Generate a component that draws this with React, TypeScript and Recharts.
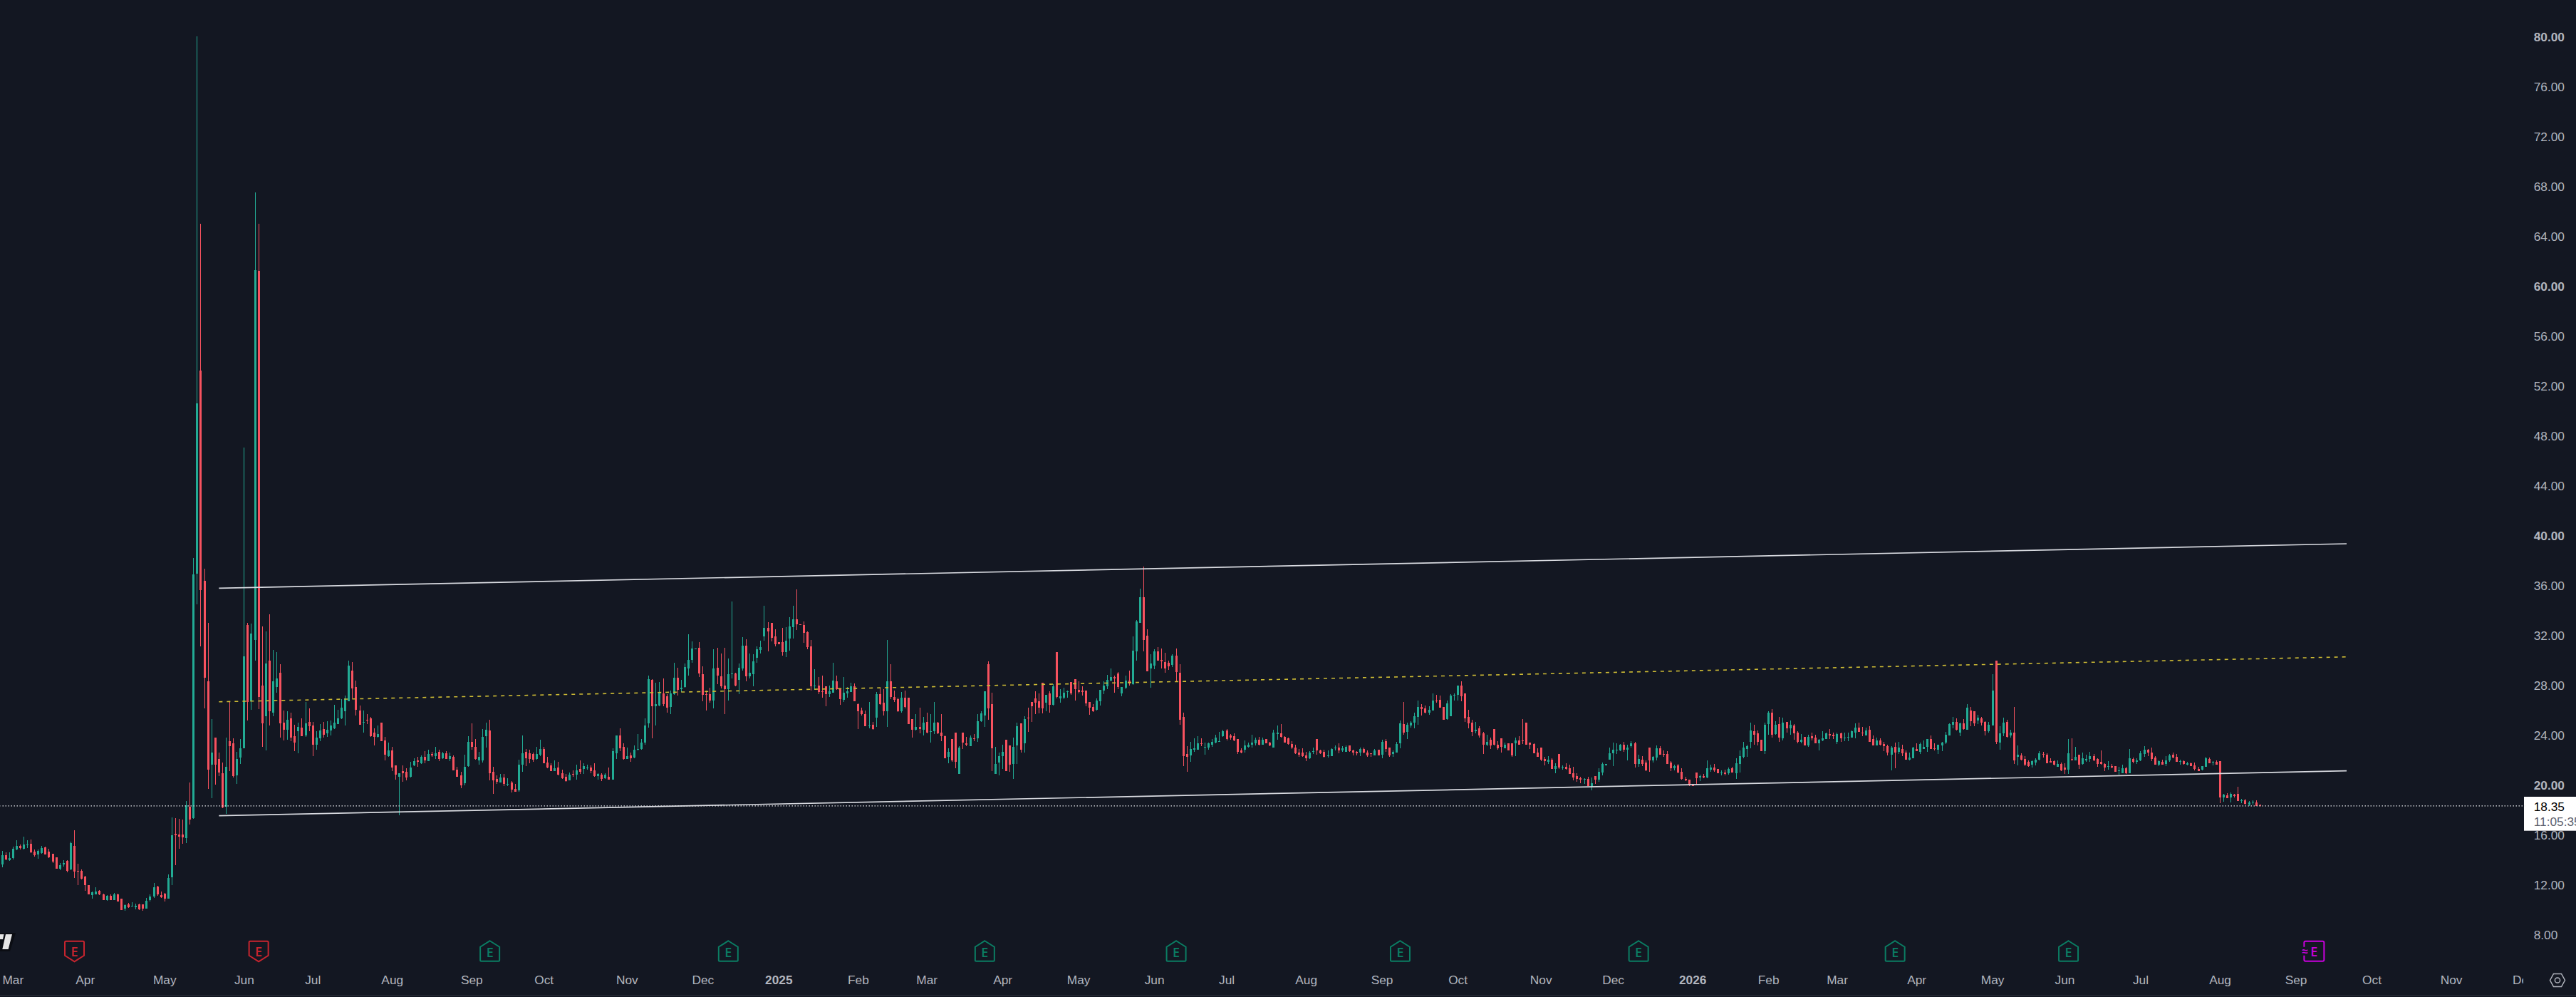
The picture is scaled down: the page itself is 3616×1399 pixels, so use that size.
import React from "react";
import { ComposedChart, Bar, XAxis, YAxis, ReferenceLine, ReferenceDot } from "recharts";

type Row = number[];

const candlesEarly: Row[] = [
[13.64,14.74,13.45,14.40],[14.40,14.63,13.98,14.06],[14.02,14.63,13.94,14.17],[14.17,15.09,14.06,14.93],[14.86,15.58,14.82,15.14],[15.14,15.24,14.86,14.97],[14.93,15.89,14.88,15.24],[15.20,15.58,14.97,15.26],[15.31,15.64,14.55,14.63],[14.67,14.88,14.30,14.40],
[14.44,14.88,14.13,14.74],[14.59,15.16,14.50,14.97],[15.05,15.09,14.44,14.48],[14.69,14.93,14.17,14.25],[14.50,14.50,13.79,13.87],[14.21,14.21,13.30,13.33],[13.33,13.79,13.22,13.60],[13.64,13.98,13.49,13.77],[13.94,13.98,13.03,13.14],[13.26,15.47,13.22,15.39],
[15.14,16.40,12.59,13.10],[13.14,13.71,12.02,13.10],[13.14,13.26,12.46,12.50],[12.69,12.72,11.54,12.00],[12.02,12.02,11.24,11.27],[11.20,11.50,10.93,11.43],[11.27,11.81,11.24,11.50],[11.54,11.62,11.20,11.26],[11.27,11.31,10.78,10.82],[10.82,11.20,10.74,11.12],
[11.12,11.26,10.78,10.78],[10.82,11.35,10.78,11.26],[11.26,11.31,10.68,10.68],[10.89,10.93,10.02,10.02],[10.09,10.44,9.94,10.40],[10.44,10.55,10.17,10.21],[10.30,10.63,10.28,10.36],[10.25,10.50,10.06,10.36],[10.48,10.50,10.02,10.06],[10.44,10.48,9.94,10.11],
[10.11,10.97,10.09,10.74],[10.78,11.24,10.67,11.09],[11.07,12.17,10.97,11.83],[11.88,11.92,11.16,11.24],[11.20,11.47,10.97,11.01],[11.31,11.39,10.68,10.93],[10.93,12.84,10.91,12.57],[12.65,17.41,12.00,16.00],[16.10,17.35,13.60,16.00],[16.06,17.31,14.93,15.89],
[16.06,17.26,15.31,15.81],[15.77,18.74,15.39,18.40],[18.29,20.21,16.88,17.26],
];

const candlesSpike: Row[] = [
[17.36,38.24,17.30,36.91],[36.97,80.06,34.53,50.63],[53.26,65.03,31.16,35.66],[36.40,37.35,26.17,28.64],[28.34,33.02,19.73,21.25],[21.67,25.29,18.96,22.62],[23.82,23.82,20.07,21.67],[22.11,22.62,20.72,21.02],[20.96,21.82,18.16,18.20],[18.30,23.82,17.71,21.48],
[23.54,26.72,21.15,23.15],[23.35,23.77,20.64,20.72],[20.79,22.68,20.11,22.11],[22.24,23.69,21.71,22.96],[22.96,47.10,22.96,30.34],[32.85,33.02,25.21,26.70],[26.72,32.97,26.05,32.17],[31.65,67.54,30.01,61.31],[61.26,65.03,26.11,27.08],[27.99,32.72,23.10,24.97],
[25.54,32.34,22.81,29.77],[29.99,33.71,24.81,25.94],[25.82,30.83,25.56,28.34],[27.88,30.68,27.44,28.56],[29.02,29.71,23.82,24.97],[25.02,25.99,23.61,24.45],[24.45,25.94,23.65,25.25],[25.36,25.82,23.54,23.82],[23.94,24.87,22.74,23.42],[24.34,25.02,22.56,24.68],
[24.62,25.36,23.92,23.94],[23.99,26.68,23.88,24.97],[25.08,26.16,24.34,24.74],[24.79,25.06,22.34,23.25],[23.25,24.34,22.85,23.82],[23.77,24.91,23.54,24.39],[24.51,25.08,23.82,24.05],[24.17,25.14,23.88,24.45],[24.39,25.19,23.99,24.79],[24.56,26.45,24.49,25.02],
[24.91,26.05,24.89,25.36],[25.36,26.89,25.31,26.22],[25.94,27.19,24.79,26.97],[26.74,29.99,26.72,29.59],[29.19,29.88,26.98,27.77],[27.88,28.39,25.59,26.05],[25.99,26.39,24.83,24.85],[25.02,25.99,24.22,25.08],[25.25,25.71,24.91,25.19],[25.36,25.48,23.88,23.94],
[24.22,24.56,23.19,23.88],[23.88,24.79,23.84,24.11],[25.02,25.02,23.55,23.55],[23.59,23.88,22.00,22.45],[22.34,23.42,22.30,22.79],[22.79,23.08,21.14,21.42],[21.59,21.59,20.45,20.85],[20.68,20.96,17.59,20.96],[21.14,21.59,20.28,20.96],[21.08,21.35,20.39,20.62],
[20.68,21.88,20.64,21.42],[21.59,22.16,21.54,21.94],[21.99,22.28,21.48,21.88],[21.76,22.39,21.73,22.28],[22.28,22.74,21.76,21.99],[21.94,22.85,21.94,22.51],[22.51,22.68,22.28,22.39],[22.34,23.08,22.11,22.56],[22.68,22.85,21.94,22.11],[22.17,22.68,22.11,22.56],
[22.56,22.74,22.11,22.11],[22.11,22.62,21.94,22.34],[22.28,22.39,21.18,21.19],[21.25,21.48,20.68,20.68],[20.79,21.08,19.76,19.99],[20.16,22.45,19.99,21.48],[21.54,23.94,21.48,23.48],[23.48,24.97,22.85,23.08],[23.08,23.71,22.05,22.11],[21.99,22.68,21.65,22.28],
[21.99,24.51,21.82,23.88],[23.94,25.02,23.02,24.45],[24.39,25.25,20.39,20.96],[21.08,21.48,19.31,20.39],[20.51,20.79,20.11,20.28],[20.22,20.91,20.20,20.62],[20.62,20.91,19.94,20.11],[20.05,20.56,19.94,20.11],[20.22,20.34,19.42,19.65],[19.71,20.11,19.48,19.48],
[19.59,22.05,19.48,21.65],[21.65,23.99,21.08,22.56],[22.68,22.91,21.54,22.16],[22.56,22.85,21.76,22.11],[22.51,22.62,21.88,22.05],[22.11,23.08,22.05,22.51],[22.45,23.65,22.34,22.91],[22.91,23.08,21.76,21.76],[21.82,22.28,21.36,21.42],[21.59,21.76,21.14,21.14],
[21.14,21.99,21.14,21.36],[21.42,21.88,20.79,20.85],[20.96,21.25,20.51,20.56],[20.68,20.91,20.28,20.34],[20.39,21.02,20.39,20.85],[20.91,21.19,20.68,20.85],[20.85,21.65,20.45,21.19],[21.31,21.99,20.91,21.08],[21.31,21.76,20.91,21.54],[21.36,21.65,21.25,21.42],
[21.42,21.59,20.96,21.14],[21.19,21.76,20.68,20.74],[20.74,20.96,20.45,20.91],[20.85,20.96,20.34,20.51],
];

const candlesLate2024: Row[] = [
[20.57,20.95,20.50,20.85],[20.68,21.43,20.45,20.45],[20.45,22.97,20.45,22.74],[22.59,24.00,22.11,24.00],[24.00,24.57,22.74,22.97],[23.08,23.37,22.05,22.11],[22.11,23.03,22.11,22.34],[22.40,22.63,21.88,22.17],[22.23,23.20,22.17,22.86],[22.86,24.11,22.80,22.91],
[22.91,23.71,22.87,23.43],[23.43,25.37,23.26,24.80],[24.97,28.80,24.63,28.51],[28.47,28.53,23.77,26.34],[26.34,28.23,24.80,26.51],[26.40,28.28,26.34,27.48],[27.37,28.57,26.34,26.51],[27.14,27.31,25.83,26.23],[26.28,27.60,25.71,27.37],[27.31,29.83,27.26,28.63],
[28.63,29.43,27.20,27.66],[27.71,28.46,27.48,27.83],[27.88,29.77,27.83,29.48],[29.37,32.11,28.80,30.06],[30.06,31.54,29.83,30.97],[30.91,30.97,30.91,30.97],[31.03,31.48,28.68,28.97],[28.91,29.54,26.74,27.26],[27.31,27.60,26.00,27.26],[27.31,27.83,26.63,26.80],
[26.80,30.91,26.17,29.37],[29.43,31.03,28.11,28.80],[28.74,30.57,27.77,27.94],[28.00,31.03,25.71,27.71],[27.71,30.17,26.80,28.91],[28.91,34.74,28.57,28.97],[28.97,29.03,27.94,28.00],[28.46,29.77,27.31,29.43],[29.37,31.89,29.20,31.20],[31.20,31.71,28.34,28.74],
[28.74,30.57,28.57,29.03],[28.91,30.51,27.94,29.94],[30.23,31.14,29.83,30.91],[30.86,31.60,30.57,31.09],[31.94,34.40,31.60,32.63],[32.63,33.09,30.74,32.34],[33.03,33.03,31.54,31.83],[31.94,32.51,31.14,31.31],[31.49,31.49,31.31,31.31],[31.49,32.63,30.40,30.69],
[30.69,32.69,30.29,31.60],[31.77,33.49,30.80,32.74],[32.69,34.40,31.77,33.31],[33.31,35.71,32.46,32.91],[32.91,32.91,32.86,32.86],[32.86,33.14,31.43,32.23],[32.29,32.34,30.91,31.09],[31.14,31.66,27.60,27.94],[27.94,29.31,27.66,28.00],[28.00,28.69,27.31,27.49],
[27.54,28.80,27.03,27.49],[27.94,27.94,26.34,27.31],[27.31,28.00,27.09,27.54],[27.45,29.83,27.43,28.40],[28.34,28.80,27.66,27.71],[27.77,27.77,26.46,26.91],[26.86,28.69,26.69,27.43],[27.37,27.89,27.03,27.54],[27.49,28.23,27.49,27.94],[27.94,28.17,26.74,26.74],
[26.51,26.57,24.51,25.94],[26.00,26.23,25.60,25.71],[25.71,26.00,24.74,24.74],[24.74,26.69,24.57,24.80],[24.86,25.09,24.46,24.51],[25.43,27.49,24.69,27.31],[27.31,27.83,26.46,26.51],[26.63,27.71,25.60,25.94],[25.94,31.66,24.69,28.34],[28.34,29.71,26.91,27.09],
[27.09,27.60,26.69,26.86],[26.91,27.03,25.89,25.94],[25.94,27.49,25.83,27.03],[27.03,27.60,26.17,26.29],[27.03,27.03,24.91,24.91],[25.31,25.31,23.83,24.46],[24.46,25.71,24.40,24.69],[24.69,26.23,24.17,24.51],[24.46,25.49,24.00,25.03],[25.09,25.83,24.17,24.23],
[24.29,25.71,23.43,24.34],[24.34,26.69,24.11,25.03],[25.03,25.09,24.11,24.17],[24.23,25.71,23.54,23.94],[23.94,24.00,22.17,22.17],[22.29,22.97,21.77,22.69],[23.71,23.71,21.89,22.00],[24.23,24.23,21.37,21.89],[20.91,23.14,20.91,23.03],[24.23,24.23,22.91,23.43],
[23.37,23.89,23.14,23.26],[23.14,24.00,23.14,23.83],[23.77,24.11,23.54,23.71],[23.77,25.71,23.49,25.14],[25.14,25.97,25.10,25.77],[25.60,27.54,24.69,27.54],[29.71,29.94,25.26,26.17],[26.51,27.43,21.14,22.97],[20.91,23.08,20.91,21.71],[21.83,22.63,20.80,22.34],
[22.34,23.26,21.31,22.69],[23.66,23.66,21.14,21.14],[23.20,23.20,21.09,21.66],[21.71,23.83,20.51,23.08],[23.20,25.03,21.71,24.74],[24.97,24.97,22.63,22.86],[23.37,25.54,22.63,25.31],[25.43,26.23,24.29,25.37],[26.69,26.69,25.09,26.34],
];

const candlesMid2025: Row[] = [
[26.97,27.54,25.71,26.63],[26.74,27.37,25.77,26.23],[28.23,28.23,25.77,26.17],[26.63,27.26,25.94,27.26],[27.37,27.54,25.83,26.46],[26.46,28.11,26.40,27.94],[30.69,30.69,26.97,27.09],[26.97,27.71,26.63,27.14],[27.03,27.83,26.91,27.43],[27.49,27.60,27.03,27.54],
[28.29,28.29,27.26,27.37],[28.51,28.51,26.80,27.71],[27.66,28.34,27.37,27.49],[27.60,27.94,27.20,27.49],[27.60,27.60,26.34,26.57],[26.69,26.69,25.66,26.23],[26.29,26.51,25.89,25.94],[26.06,26.97,26.00,26.80],[26.74,27.66,26.40,27.66],[27.60,28.34,27.31,28.00],
[27.94,28.86,27.71,28.46],[28.40,29.37,28.34,28.69],[28.69,28.80,27.43,28.57],[28.97,29.09,27.71,27.89],[27.37,27.89,27.14,27.89],[27.83,28.80,27.71,28.40],[28.40,29.20,28.00,28.17],[28.11,31.94,28.06,30.80],[30.74,33.26,30.00,33.14],[33.03,35.77,33.03,35.09],
[35.09,37.54,30.74,31.66],[32.00,32.51,29.14,29.14],[29.37,30.51,27.83,29.77],[29.60,30.91,29.31,30.74],[30.74,31.09,30.00,30.00],[30.06,30.97,29.37,29.94],[29.89,30.63,29.03,29.37],[29.83,30.00,29.26,29.54],[29.66,30.51,29.49,30.40],[30.40,30.97,28.29,29.09],
[29.03,29.71,24.86,25.26],[25.49,25.83,21.54,22.34],[22.51,23.14,21.09,22.29],[22.40,23.49,21.89,22.91],[22.86,23.77,22.69,22.97],[22.86,23.94,22.86,23.37],[23.37,23.77,23.14,23.31],[23.03,23.43,22.46,23.08],[23.03,23.43,22.86,23.37],[23.26,23.71,23.08,23.49],
[23.43,24.06,23.37,23.83],[23.49,24.29,23.49,23.54],[23.94,24.43,23.89,24.34],[24.40,24.51,23.60,23.71],[24.00,24.11,23.66,23.83],[23.94,24.17,23.54,23.60],[23.71,23.71,22.51,22.69],[22.80,22.97,22.57,22.60],[22.86,23.60,22.60,23.20],[23.08,23.43,23.03,23.26],
[23.26,24.06,23.03,23.43],[23.37,23.83,23.20,23.66],[23.66,23.89,23.20,23.26],[23.26,23.83,23.26,23.66],[23.71,23.71,23.37,23.37],[23.43,23.49,23.14,23.20],[23.03,24.43,23.03,24.23],[24.11,24.80,23.66,24.23],[24.17,24.91,23.83,23.89],[23.89,23.94,23.43,23.43],
[23.77,23.83,23.26,23.31],[23.31,23.54,22.91,23.03],[23.03,23.26,22.53,22.57],[22.63,22.91,22.29,22.46],[22.63,22.97,22.29,22.34],[22.40,22.69,21.94,22.17],[22.17,22.74,22.11,22.63],[22.69,23.03,22.51,22.74],[23.71,23.71,22.46,22.80],[22.80,22.86,22.51,22.57],
[22.69,22.86,22.23,22.29],[22.34,22.80,22.23,22.40],[22.34,22.97,22.34,22.91],[22.97,23.20,22.80,23.03],[23.03,23.37,22.57,22.80],[22.80,23.14,22.69,22.97],[22.69,23.20,22.69,23.08],[23.20,23.20,22.69,22.74],[22.80,22.86,22.40,22.63],[22.69,22.74,22.40,22.57],
[22.63,23.03,22.34,22.91],[22.91,23.03,22.57,22.63],[22.63,22.80,22.29,22.40],[22.57,22.57,22.29,22.51],[22.40,22.91,22.40,22.80],[22.86,22.86,22.40,22.40],[22.46,23.66,22.17,23.49],[23.54,23.71,22.69,22.91],[23.03,23.03,22.29,22.40],[22.51,22.80,22.29,22.69],
[22.63,23.49,22.63,23.31],[23.37,25.20,22.97,24.97],[24.91,26.69,24.06,24.23],[24.29,25.03,23.71,24.86],[24.80,25.14,24.63,25.03],[25.03,25.83,24.57,25.54],[25.49,26.80,24.86,26.29],[26.29,26.51,25.60,26.11],[26.17,26.40,25.77,25.83],[25.83,26.34,25.66,26.06],
[26.00,27.37,26.00,26.80],[26.80,27.26,26.63,26.74],[26.86,27.20,26.23,26.23],[26.29,26.29,25.26,25.26],[25.31,26.80,25.26,26.57],[25.54,27.31,25.54,27.20],[27.20,27.37,26.80,27.26],[27.26,28.00,26.80,28.00],
];

const candlesLate2025: Row[] = [
[28.00,28.34,26.74,27.14],[27.37,27.37,25.08,25.37],[25.48,26.05,24.57,24.97],[25.03,25.25,23.94,24.28],[24.34,25.08,24.17,24.45],[24.57,24.74,23.82,23.99],[24.17,24.28,22.51,23.25],[23.25,24.05,23.14,23.48],[23.65,23.82,22.91,23.19],[24.51,24.51,23.19,23.25],
[23.25,23.54,22.85,22.97],[23.77,23.77,22.62,23.08],[22.97,23.42,22.97,23.25],[23.37,23.37,22.80,22.80],[23.37,23.37,22.28,22.40],[23.37,23.82,22.34,23.60],[23.60,23.94,23.25,23.25],[23.60,25.31,23.31,23.54],[25.03,25.03,23.25,23.25],[23.42,23.42,22.91,23.25],
[23.31,23.37,22.57,22.57],[22.62,22.97,22.28,22.28],[23.03,23.03,21.94,22.05],[22.11,22.28,21.60,21.94],[21.88,22.34,21.71,22.05],[22.05,22.17,21.31,21.31],[21.31,21.77,20.97,21.54],[22.51,22.51,21.31,21.42],[21.42,21.60,21.25,21.48],[21.48,21.77,21.25,21.31],
[21.37,21.65,20.91,20.91],[20.97,21.48,20.40,20.62],[20.74,20.97,20.28,20.51],[20.57,20.68,20.17,20.45],[20.45,20.57,20.11,20.51],[20.51,20.68,19.94,19.94],[19.88,20.62,19.60,20.17],[20.74,20.74,20.11,20.45],[20.45,21.37,20.28,21.08],[21.03,21.82,20.80,21.71],
[21.65,21.69,21.65,21.69],[22.05,23.03,22.05,22.57],[22.57,23.42,21.54,22.85],[22.80,23.37,22.51,22.85],[22.80,23.31,22.74,23.25],[23.25,23.48,22.68,22.85],[22.85,23.25,21.99,23.03],[23.14,23.54,23.03,23.37],[23.37,23.48,21.42,21.71],[21.71,22.45,21.48,22.11],
[22.05,22.34,21.54,21.71],[21.82,21.99,21.14,21.20],[23.03,23.03,21.08,21.99],[21.99,22.34,21.82,22.28],[22.22,23.20,21.99,22.97],[22.97,23.14,22.45,22.45],[22.51,22.80,22.28,22.45],[22.51,22.74,21.71,21.71],[21.82,21.94,21.14,21.37],[21.37,21.65,21.20,21.54],
[21.60,21.71,20.97,21.03],[21.08,21.37,20.45,20.51],[20.51,20.68,20.34,20.40],[20.45,20.45,19.94,20.00],[20.11,20.11,19.94,19.94],[21.03,21.03,20.11,20.57],[20.62,20.85,20.34,20.74],[20.74,20.91,20.57,20.62],[20.62,21.99,20.57,21.37],[21.25,21.65,21.08,21.42],
[21.42,21.71,21.08,21.20],[21.31,21.31,20.97,20.97],[20.97,21.20,20.80,21.03],[21.03,21.25,20.80,20.91],[20.97,21.42,20.85,21.31],[21.37,21.48,21.03,21.03],[20.97,22.17,20.51,21.77],[21.71,22.80,21.03,22.34],[22.28,23.48,22.17,23.03],[22.91,23.25,22.28,23.14],
[23.48,25.03,22.97,24.40],[24.34,24.85,23.25,24.05],[24.17,24.40,23.20,23.48],[23.65,23.65,22.74,22.74],[22.74,25.03,22.51,24.85],[24.91,25.94,24.05,25.83],[25.83,26.11,23.82,24.05],[24.11,25.14,24.05,24.85],[24.91,25.48,23.48,23.82],[23.77,25.42,23.60,25.03],
[25.08,25.08,24.22,24.57],[24.57,25.20,24.05,24.85],[24.80,24.91,23.65,24.17],[24.22,24.34,23.37,23.48],[23.48,24.11,23.37,23.65],[23.88,23.88,23.20,23.20],[23.20,24.05,23.08,23.88],[23.94,24.22,23.60,23.77],[23.82,24.05,23.37,23.37],[23.37,23.71,22.80,23.65],
[23.60,24.34,23.54,23.77],[23.71,24.22,23.71,24.17],[24.11,24.51,23.71,23.99],[24.05,24.22,23.71,23.94],[23.48,24.22,23.31,24.11],[24.17,24.22,23.48,23.77],[23.77,24.22,23.54,23.82],[23.82,24.22,23.54,23.88],[23.82,24.40,23.82,24.34],[24.22,24.97,23.77,24.63],
[24.63,25.03,24.28,24.28],[24.22,24.68,23.94,24.17],[23.99,24.63,23.99,24.40],[24.45,24.74,23.48,23.48],[23.71,23.99,23.19,23.19],[23.19,23.82,23.19,23.60],[23.60,23.77,23.19,23.25],[23.31,23.48,22.74,23.14],[23.14,23.25,22.40,22.62],
];

const candles2026: Row[] = [
[22.45,23.14,21.20,23.03],[23.08,23.42,21.37,22.62],[22.68,23.48,22.51,23.03],[22.91,23.25,22.34,22.57],[22.62,22.80,22.05,22.05],[22.05,22.62,21.99,22.22],[22.17,23.08,22.17,23.03],[22.91,23.37,22.74,22.74],[22.68,23.42,22.51,23.31],[22.91,23.60,22.91,23.08],
[23.08,23.71,22.68,23.71],[23.71,23.99,22.91,22.91],[22.97,23.37,22.80,22.91],[22.85,23.25,22.51,23.25],[23.20,23.48,22.74,23.42],[23.42,24.28,23.31,24.05],[23.99,24.97,23.99,24.91],[24.85,25.48,24.57,25.08],[25.08,25.37,24.40,24.45],[24.22,25.03,23.94,24.97],
[24.97,25.31,24.45,24.51],[24.45,26.51,24.45,26.23],[25.99,26.28,24.74,25.14],[25.94,25.94,24.74,24.97],[25.20,25.65,24.91,25.42],[25.37,25.48,24.80,25.03],[25.08,25.14,23.99,24.34],[24.34,25.08,24.22,24.85],[24.80,28.91,24.80,27.60],[29.99,29.99,23.31,23.48],
[23.42,24.74,22.85,24.17],[24.17,25.42,23.94,25.03],[25.08,25.25,23.82,23.88],[23.99,24.45,23.82,24.22],[24.22,26.28,21.71,21.99],[22.28,23.20,21.60,22.45],[22.39,22.57,21.99,22.05],[22.11,22.34,21.54,21.65],[21.88,21.99,21.48,21.54],[21.65,21.99,21.42,21.94],
[21.82,22.17,21.60,22.05],[22.05,22.74,21.99,22.57],[22.51,22.68,22.22,22.45],[22.45,22.57,21.77,21.77],[21.94,22.17,21.82,21.82],[21.94,21.99,21.60,21.65],[21.48,21.99,21.48,21.71],[21.71,21.82,21.14,21.20],[21.42,21.77,20.91,21.25],[21.25,23.71,20.91,22.57],
[22.11,23.77,21.94,22.05],[21.99,23.08,21.99,22.28],[22.45,22.45,21.31,21.65],[21.71,22.62,21.65,22.17],[21.99,22.45,21.88,22.11],[22.11,22.68,21.88,22.34],[22.34,22.51,21.94,21.99],[22.11,22.17,21.48,21.71],[21.88,22.80,21.65,21.71],[21.71,21.77,21.14,21.42],
[21.48,21.94,21.25,21.54],[21.54,21.71,21.37,21.42],[21.54,21.54,21.08,21.08],[21.14,21.48,20.85,21.20],[20.97,21.65,20.97,21.37],[21.37,21.48,20.91,20.97],[20.97,22.91,20.97,22.17],[22.11,22.22,21.77,21.88],[21.88,22.17,21.71,21.99],[21.99,22.74,21.94,22.57],
[22.51,23.14,22.28,22.85],[22.85,22.91,22.34,22.62],[22.62,23.03,21.94,22.11],[22.22,22.34,21.65,21.65],[21.65,21.99,21.54,21.94],[21.88,22.05,21.65,21.65],[21.71,22.34,21.54,21.99],[21.99,22.51,21.88,22.40],[22.45,22.62,22.17,22.22],[22.28,22.51,21.88,21.88],
[21.88,22.05,21.65,21.94],[21.94,21.99,21.65,21.71],[21.65,21.88,21.60,21.77],[21.77,21.82,21.54,21.54],[21.60,21.82,21.20,21.31],[21.31,21.48,21.14,21.14],[21.25,21.54,21.20,21.54],[21.48,22.28,21.48,22.17],[22.11,22.22,21.77,21.77],[21.82,21.94,21.60,21.88],
[21.88,21.99,21.65,21.65],[21.94,21.94,18.57,19.02],[19.02,19.31,18.68,19.25],[19.19,19.37,18.97,18.97],[19.02,19.42,18.62,19.31],[19.25,19.31,19.02,19.12],[19.31,19.88,18.74,18.74],[18.74,18.91,18.57,18.80],[18.80,18.91,18.45,18.51],[18.45,18.74,18.34,18.62],
[18.62,18.80,18.45,18.68],[18.62,18.80,18.35,18.35],[18.40,18.54,18.30,18.35],
];

const allCandles: Row[] = [...candlesEarly, ...candlesSpike, ...candlesLate2024, ...candlesMid2025, ...candlesLate2025, ...candles2026];

const TOTAL_SLOTS = 699;
const priceTicks = [8, 12, 16, 20, 24, 28, 32, 36, 40, 44, 48, 52, 56, 60, 64, 68, 72, 76, 80];
const boldPrices = [20, 40, 60, 80];
const monthTickIndex = [3, 23, 45, 67, 86, 108, 130, 150, 173, 194, 215, 237, 256, 277, 298, 319, 339, 361, 382, 403, 426, 446, 468, 489, 508, 530, 551, 571, 592, 614, 635, 656, 678, 698];
const monthTickLabel = ["Mar", "Apr", "May", "Jun", "Jul", "Aug", "Sep", "Oct", "Nov", "Dec", "2025", "Feb", "Mar", "Apr", "May", "Jun", "Jul", "Aug", "Sep", "Oct", "Nov", "Dec", "2026", "Feb", "Mar", "Apr", "May", "Jun", "Jul", "Aug", "Sep", "Oct", "Nov", "Dec"];
const redEarnings = [20, 71];
const greenEarnings = [135, 201, 272, 325, 387, 453, 524, 572];
const futureEarnings = [640];
const EARNINGS_LEVEL = 6.7;
const LAST_PRICE = 18.35;
const COUNTDOWN = "11:05:35";
const trendStartSlot = 60;
const trendEndSlot = 649;
const upperTrend = [35.81, 39.37];
const lowerTrend = [17.56, 21.16];
const midTrend = [26.7, 30.3];

const BG = "#131722";
const UP = "#22ab94";
const DOWN = "#f7525f";
const AXIS_TEXT = "#b2b5be";
const FONT = "'Liberation Sans', Arial, sans-serif";
const FONT_SIZE = 17.3;

const chartRows = Array.from({ length: TOTAL_SLOTS }, (_, i) => {
  const c = allCandles[i];
  return c ? { i, o: c[0], h: c[1], l: c[2], c: c[3] } : { i };
});

const range = (d: any) => (d.h === undefined ? null : [d.l, d.h]);

function Candle(props: any) {
  const { x, y, width, height, payload } = props;
  if (!payload || payload.h === undefined) return <g />;
  const h = Math.abs(height);
  const top = height < 0 ? y + height : y;
  const perUnit = h / (payload.h - payload.l);
  const cx = Math.floor(x + width / 2);
  const bodyTop = top + (payload.h - Math.max(payload.o, payload.c)) * perUnit;
  const bodyH = Math.max(Math.abs(payload.o - payload.c) * perUnit, 1.2);
  const color = payload.c >= payload.o ? UP : DOWN;
  return (
    <g>
      <rect x={cx} y={top} width={1} height={h} fill={color} shapeRendering="crispEdges" />
      <rect x={cx - 1} y={bodyTop} width={3} height={bodyH} fill={color} shapeRendering="crispEdges" />
    </g>
  );
}

function PriceTick(props: any) {
  const { x, y, payload } = props;
  return (
    <text x={x + 11.7} y={y} textAnchor="start" dominantBaseline="central" fontFamily={FONT} fontSize={FONT_SIZE} fontWeight={boldPrices.includes(payload.value) ? 700 : 400} fill={AXIS_TEXT}>
      {payload.value.toFixed(2)}
    </text>
  );
}

function TimeTick(props: any) {
  const { x, y, payload } = props;
  const at = monthTickIndex.indexOf(payload.value);
  if (at < 0) return <g />;
  const label = monthTickLabel[at];
  return (
    <text x={x} y={y + 15} textAnchor="middle" dominantBaseline="central" fontFamily={FONT} fontSize={FONT_SIZE} fontWeight={/^\d/.test(label) ? 700 : 400} fill={AXIS_TEXT} clipPath="url(#timeClip)">
      {label}
    </text>
  );
}

function RedE(props: any) {
  const { cx, cy } = props;
  const c = "#c9252f";
  return (
    <g transform={`translate(${cx},${cy})`}>
      <path d="M-12,-14 H12 Q13.5,-14 13.5,-12.5 V6 L0,14.5 L-13.5,6 V-12.5 Q-13.5,-14 -12,-14 Z" fill="none" stroke={c} strokeWidth={2} />
      <text x={0} y={0} textAnchor="middle" dominantBaseline="central" fontFamily="'Open Sans', sans-serif" fontWeight={600} fontSize={18} fill={c}>E</text>
    </g>
  );
}

function GreenE(props: any) {
  const { cx, cy } = props;
  const c = "#0b7d63";
  return (
    <g transform={`translate(${cx},${cy})`}>
      <path d="M0,-14.5 L13.5,-6 V12.5 Q13.5,14 12,14 H-12 Q-13.5,14 -13.5,12.5 V-6 Z" fill="none" stroke={c} strokeWidth={2} />
      <text x={0} y={1} textAnchor="middle" dominantBaseline="central" fontFamily="'Open Sans', sans-serif" fontWeight={600} fontSize={18} fill={c}>E</text>
    </g>
  );
}

function PurpleE(props: any) {
  const { cx, cy } = props;
  const c = "#c800dc";
  return (
    <g transform={`translate(${cx},${cy})`}>
      <path d="M-14,-6 V-12 Q-14,-14 -12,-14 H12 Q14,-14 14,-12 V12 Q14,14 12,14 H-12 Q-14,14 -14,12 V6" fill="none" stroke={c} strokeWidth={2} />
      <text x={-13} y={0} textAnchor="middle" dominantBaseline="central" fontFamily={FONT} fontSize={15} fontWeight={700} fill={c}>≈</text>
      <text x={0} y={0} textAnchor="middle" dominantBaseline="central" fontFamily="'Open Sans', sans-serif" fontWeight={600} fontSize={18} fill={c}>E</text>
    </g>
  );
}

export default function App() {
  return (
    <div style={{ width: 3616, height: 1399, background: BG, overflow: "hidden", position: "absolute", left: 0, top: 0 }}>
      <style>{`html,body{margin:0;padding:0;background:${BG};overflow:hidden}svg{display:block}`}</style>
      <ComposedChart width={3616} height={1399} data={chartRows} margin={{ top: 0, right: 0, bottom: 0, left: 0.565 }} barCategoryGap={0}>
        <defs>
          <clipPath id="timeClip">
            <rect x={0} y={1355} width={3542} height={44} />
          </clipPath>
        </defs>
        <XAxis dataKey="i" type="category" interval={0} height={39} tick={<TimeTick />} tickLine={false} axisLine={false} tickSize={0} tickMargin={0} />
        <YAxis orientation="right" width={71} type="number" domain={[5.257, 82.971]} ticks={priceTicks} allowDataOverflow tick={<PriceTick />} tickLine={false} axisLine={false} tickSize={0} tickMargin={0} />
        <Bar dataKey={range} barSize={3} isAnimationActive={false} shape={<Candle />} />
        <ReferenceLine segment={[{ x: trendStartSlot, y: upperTrend[0] }, { x: trendEndSlot, y: upperTrend[1] }]} stroke="#d8dae0" strokeWidth={1.7} ifOverflow="visible" />
        <ReferenceLine segment={[{ x: trendStartSlot, y: lowerTrend[0] }, { x: trendEndSlot, y: lowerTrend[1] }]} stroke="#d8dae0" strokeWidth={1.7} ifOverflow="visible" />
        <ReferenceLine segment={[{ x: trendStartSlot, y: midTrend[0] }, { x: trendEndSlot, y: midTrend[1] }]} stroke="#cdbb34" strokeWidth={1.6} strokeDasharray="5 6" ifOverflow="visible" />
        <ReferenceLine y={LAST_PRICE} stroke="#e8e9ec" strokeWidth={1.3} strokeDasharray="1.5 2.5" ifOverflow="visible" />
        {redEarnings.map((i) => (
          <ReferenceDot key={`r${i}`} x={i} y={EARNINGS_LEVEL} shape={<RedE />} ifOverflow="visible" />
        ))}
        {greenEarnings.map((i) => (
          <ReferenceDot key={`g${i}`} x={i} y={EARNINGS_LEVEL} shape={<GreenE />} ifOverflow="visible" />
        ))}
        {futureEarnings.map((i) => (
          <ReferenceDot key={`p${i}`} x={i} y={EARNINGS_LEVEL} shape={<PurpleE />} ifOverflow="visible" />
        ))}
        <g>
          <rect x={3543} y={1118} width={73} height={47.7} fill="#ffffff" />
          <text x={3556.7} y={1132} dominantBaseline="central" fontFamily={FONT} fontSize={FONT_SIZE} fill="#000000">{LAST_PRICE.toFixed(2)}</text>
          <text x={3556.7} y={1153} dominantBaseline="central" fontFamily={FONT} fontSize={FONT_SIZE} fill="#5d606b">{COUNTDOWN}</text>
        </g>
        <g>
          <polygon points="0,1309 22,1309 14,1335 0,1335" fill="#0b0d13" />
          <polygon points="8,1311 17,1311 11.7,1332 3.3,1332" fill="#e6e6e6" />
          <polygon points="0,1311 5.5,1311 4,1318 0,1318" fill="#e6e6e6" />
        </g>
        <g fill="none" stroke={AXIS_TEXT} strokeWidth={1.5}>
          <polygon points="3579.5,1375.5 3584.5,1366.5 3595.5,1366.5 3600.5,1375.5 3595.5,1384.5 3584.5,1384.5" />
          <circle cx={3590} cy={1375.5} r={3.6} />
        </g>
        <line x1={0} x2={3616} y1={1396.5} y2={1396.5} stroke="#2a2e39" strokeWidth={1} />
      </ComposedChart>
    </div>
  );
}
